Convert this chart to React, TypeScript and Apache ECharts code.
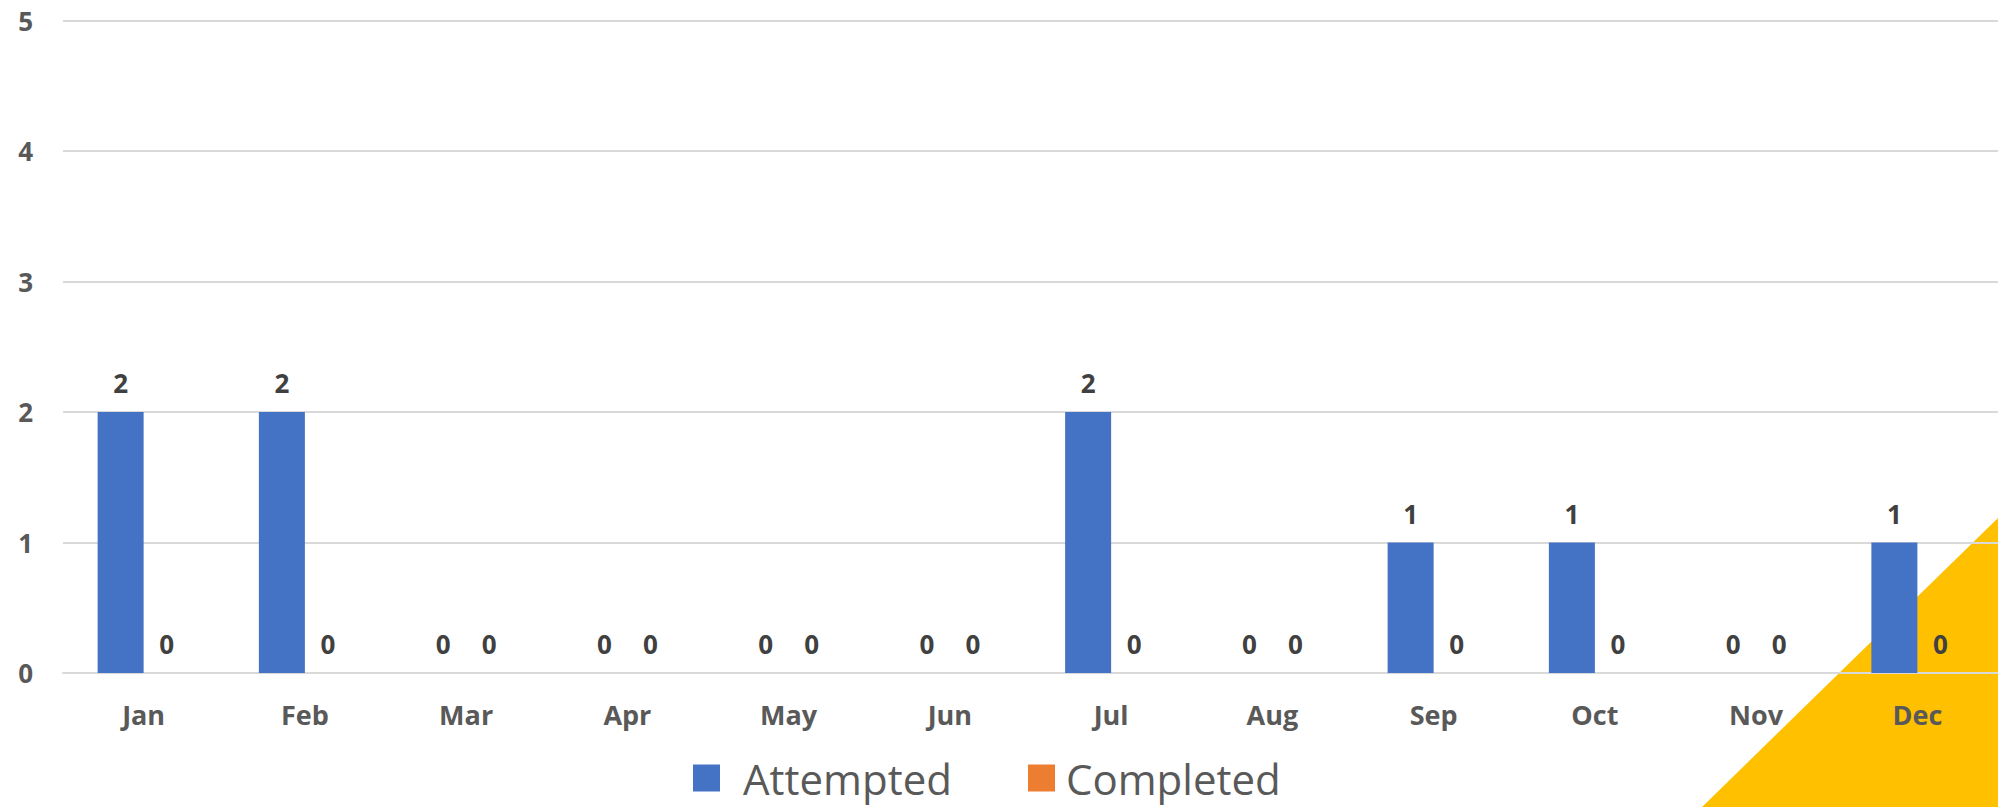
import React, { useEffect, useRef } from "react";
import * as echarts from "echarts";

const months = ["Jan", "Feb", "Mar", "Apr", "May", "Jun", "Jul", "Aug", "Sep", "Oct", "Nov", "Dec"];
const attempted = [2, 2, 0, 0, 0, 0, 2, 0, 1, 1, 0, 1];
const completed = [0, 0, 0, 0, 0, 0, 0, 0, 0, 0, 0, 0];
const seriesNames = ["Attempted", "Completed"];

const FONT = "'Open Sans', 'Noto Sans', sans-serif";

export default function App() {
  const ref = useRef<HTMLDivElement>(null);
  useEffect(() => {
    if (!ref.current) return;
    const chart = echarts.init(ref.current, undefined, { renderer: "svg" });
    const labelStyle = {
      show: true,
      position: "top" as const,
      distance: 16,
      color: "#404040",
      fontSize: 26,
      fontWeight: "bold" as const,
      fontFamily: FONT,
    };
    const legendBase = {
      top: 755,
      itemWidth: 27,
      itemHeight: 27,
      icon: "rect",
      padding: 0,
    };
    chart.setOption({
      animation: false,
      backgroundColor: "#ffffff",
      graphic: [
        {
          type: "polygon",
          z: -10,
          silent: true,
          shape: { points: [[1998, 518], [1998, 807], [1702, 807]] },
          style: { fill: "#FFC000" },
        },
      ],
      grid: { left: 63, right: 0, top: 20.5, bottom: 134, containLabel: false },
      legend: [
        {
          ...legendBase,
          data: [seriesNames[0]],
          left: 693,
          textStyle: {
            fontSize: 42,
            lineHeight: 46,
            color: "#595959",
            fontFamily: FONT,
            padding: [0, 0, 0, 18],
          },
        },
        {
          ...legendBase,
          data: [seriesNames[1]],
          left: 1028,
          textStyle: {
            fontSize: 42,
            lineHeight: 46,
            color: "#595959",
            fontFamily: FONT,
            padding: [0, 0, 0, 6],
          },
        },
      ],
      xAxis: {
        type: "category",
        data: months,
        axisLine: { show: true, lineStyle: { color: "#d9d9d9", width: 2 } },
        axisTick: { show: false },
        axisLabel: {
          color: "#595959",
          fontSize: 27,
          fontWeight: "bold",
          fontFamily: FONT,
          margin: 28,
        },
      },
      yAxis: {
        type: "value",
        min: 0,
        max: 5,
        interval: 1,
        axisLine: { show: false },
        axisTick: { show: false },
        splitLine: { lineStyle: { color: "#d9d9d9", width: 2 } },
        axisLabel: {
          color: "#595959",
          fontSize: 26,
          fontWeight: "bold",
          fontFamily: FONT,
          margin: 30,
        },
      },
      series: [
        {
          name: seriesNames[0],
          type: "bar",
          data: attempted,
          barWidth: 46,
          barGap: "0%",
          itemStyle: { color: "#4472C4" },
          label: labelStyle,
        },
        {
          name: seriesNames[1],
          type: "bar",
          data: completed,
          barWidth: 46,
          barGap: "0%",
          itemStyle: { color: "#ED7D31" },
          label: labelStyle,
        },
      ],
    });
    return () => chart.dispose();
  }, []);
  return (
    <div
      ref={ref}
      style={{ position: "fixed", left: 0, top: 0, width: 1998, height: 807 }}
    />
  );
}
